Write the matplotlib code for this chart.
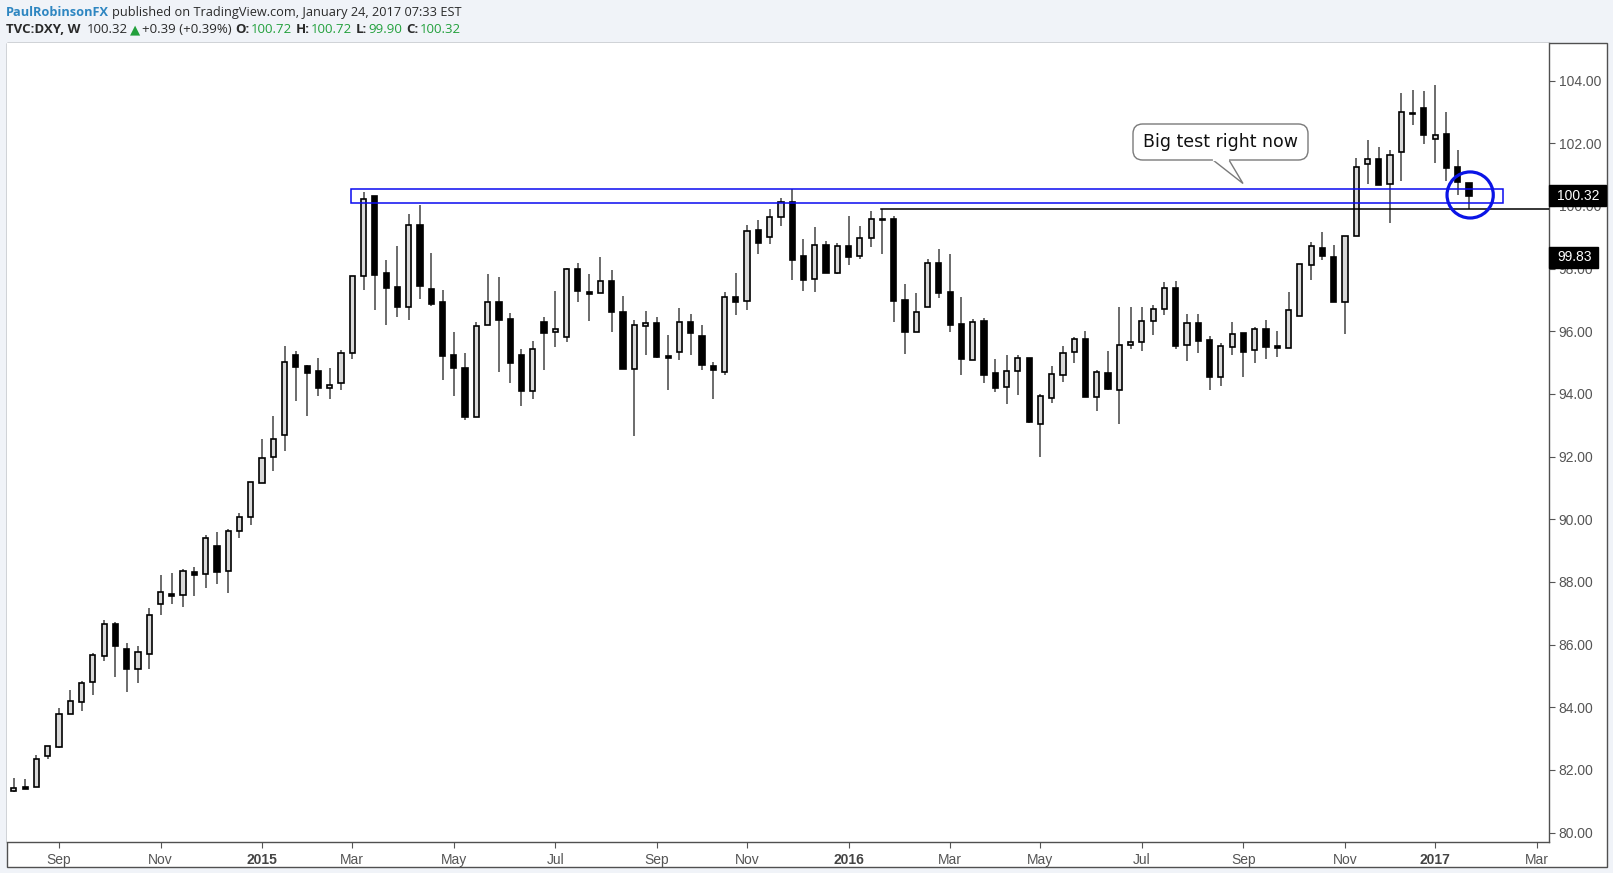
import numpy as np
import pandas as pd
import matplotlib
matplotlib.use("Agg")
import matplotlib.pyplot as plt
from matplotlib.patches import Rectangle, Ellipse, FancyBboxPatch, Polygon
from matplotlib.transforms import IdentityTransform
from matplotlib.lines import Line2D

plt.rcParams['font.family'] = ['Liberation Sans', 'DejaVu Sans']

# ---------------- data (weekly DXY candles, Aug 4 2014 .. Jan 23 2017) ----------------
opens = [81.32, 81.44, 81.44, 82.46, 82.74, 83.80, 84.18, 84.82, 85.63, 86.65,
         85.85, 85.21, 85.69, 87.29, 87.60, 87.58, 88.31, 88.24, 89.14, 88.34,
         89.62, 90.06, 91.15, 91.98, 92.68, 95.24, 94.89, 94.72, 94.20, 94.34,
         95.30, 97.75, 100.32, 97.85, 97.41, 96.77, 99.38, 97.35, 96.93, 95.23,
         94.82, 93.25, 96.19, 96.93, 96.38, 95.24, 94.09, 96.29, 95.97, 95.81,
         97.98, 97.26, 97.23, 97.60, 96.61, 94.81, 96.16, 96.26, 95.21, 95.35,
         96.29, 95.85, 94.88, 94.71, 97.09, 96.96, 99.22, 99.00, 99.64, 100.12,
         98.41, 97.66, 98.75, 97.87, 98.71, 98.39, 98.97, 99.57, 99.57, 96.99,
         95.99, 96.77, 98.17, 97.24, 96.22, 95.08, 96.32, 94.66, 94.21, 94.72,
         95.14, 93.03, 93.86, 94.60, 95.33, 95.75, 93.89, 94.66, 94.12, 95.55,
         95.65, 96.32, 96.70, 97.37, 95.55, 96.26, 95.72, 94.53, 95.49, 95.94,
         95.40, 96.07, 95.53, 95.46, 96.50, 98.11, 98.65, 98.37, 96.92, 99.03,
         101.33, 101.50, 100.69, 101.71, 102.96, 103.12, 102.15, 102.30, 101.24, 100.72]
highs = [81.73, 81.71, 82.48, 82.75, 83.98, 84.55, 84.84, 85.73, 86.78, 86.72,
         86.04, 85.96, 87.16, 88.22, 88.29, 88.41, 88.49, 89.50, 89.59, 89.69,
         90.20, 91.18, 92.56, 93.30, 95.53, 95.37, 94.93, 95.15, 94.83, 95.41,
         97.76, 100.45, 100.32, 98.28, 98.72, 99.75, 100.03, 98.50, 97.32, 95.97,
         95.31, 96.29, 97.83, 97.73, 96.57, 95.44, 95.69, 96.46, 97.29, 98.01,
         98.17, 97.83, 98.36, 97.96, 97.13, 96.36, 96.65, 96.46, 95.88, 96.75,
         96.55, 96.20, 95.02, 97.26, 97.86, 99.39, 99.54, 99.91, 100.25, 100.53,
         98.95, 99.33, 98.88, 98.82, 99.67, 99.36, 99.84, 99.89, 99.68, 97.51,
         97.22, 98.31, 98.63, 98.47, 97.10, 96.39, 96.43, 95.12, 95.24, 95.24,
         95.14, 94.00, 94.89, 95.53, 95.83, 96.01, 94.77, 95.37, 96.76, 96.76,
         96.76, 96.84, 97.58, 97.61, 96.55, 96.55, 95.85, 95.62, 96.30, 95.94,
         96.15, 96.36, 96.01, 97.24, 98.15, 98.85, 99.17, 98.76, 99.03, 101.52,
         102.11, 101.87, 101.79, 103.60, 103.70, 103.67, 103.86, 103.01, 101.79, 100.72]
lows = [81.30, 81.40, 81.44, 82.35, 82.71, 83.80, 83.89, 84.40, 85.49, 84.98,
        84.50, 84.79, 85.23, 86.93, 87.28, 87.21, 87.56, 87.82, 87.95, 87.66,
        89.41, 89.83, 91.15, 91.55, 92.19, 93.76, 93.30, 93.95, 93.85, 94.11,
        95.13, 97.32, 96.68, 96.21, 96.44, 96.36, 97.03, 96.81, 94.45, 93.94,
        93.17, 93.25, 96.19, 94.71, 94.36, 93.63, 93.85, 94.75, 95.51, 95.67,
        96.95, 96.34, 97.21, 95.98, 94.81, 92.66, 95.25, 95.16, 94.11, 95.09,
        95.25, 94.75, 93.85, 94.62, 96.52, 96.69, 98.48, 98.80, 99.37, 97.65,
        97.27, 97.24, 97.87, 97.84, 98.10, 98.32, 98.68, 98.48, 96.31, 95.29,
        95.99, 96.77, 97.07, 95.99, 94.62, 95.08, 94.36, 94.07, 93.69, 93.98,
        93.06, 91.98, 93.72, 94.39, 95.00, 93.89, 93.47, 94.13, 93.05, 95.45,
        95.38, 95.89, 96.53, 95.45, 95.06, 95.32, 94.13, 94.26, 95.25, 94.53,
        95.00, 95.11, 95.19, 95.46, 96.50, 97.64, 98.28, 96.92, 95.92, 99.03,
        100.70, 100.68, 99.47, 100.78, 102.58, 101.97, 101.36, 100.81, 100.35, 99.90]
closes = [81.41, 81.40, 82.34, 82.75, 83.78, 84.19, 84.77, 85.66, 86.65, 85.94,
          85.21, 85.75, 86.94, 87.67, 87.54, 88.34, 88.23, 89.39, 88.33, 89.62,
          90.06, 91.18, 91.95, 92.55, 95.01, 94.87, 94.68, 94.20, 94.28, 95.30,
          97.76, 100.21, 97.81, 97.39, 96.76, 99.38, 97.46, 96.88, 95.22, 94.84,
          93.25, 96.16, 96.93, 96.37, 95.00, 94.08, 95.43, 95.96, 96.06, 97.98,
          97.27, 97.20, 97.60, 96.60, 94.81, 96.19, 96.26, 95.19, 95.16, 96.29,
          95.93, 94.91, 94.76, 97.09, 96.95, 99.19, 98.83, 99.64, 100.12, 98.26,
          97.65, 98.75, 97.87, 98.71, 98.38, 98.97, 99.57, 99.54, 96.98, 95.99,
          96.61, 98.17, 97.23, 96.21, 95.10, 96.29, 94.62, 94.20, 94.72, 95.14,
          93.09, 93.93, 94.63, 95.30, 95.75, 93.89, 94.69, 94.17, 95.55, 95.67,
          96.32, 96.70, 97.37, 95.54, 96.26, 95.70, 94.53, 95.53, 95.91, 95.35,
          96.07, 95.51, 95.46, 96.67, 98.15, 98.71, 98.39, 96.92, 99.03, 101.23,
          101.51, 100.68, 101.62, 102.99, 102.94, 102.25, 102.25, 101.22, 100.75, 100.32]

first_week = '2014-08-04'
zone_low, zone_high = 100.09, 100.54     # blue resistance zone
support_line = 99.89                      # black horizontal line (99.83 label)
last_price = 100.32
line_label = '99.83'
y_ticks = [80, 82, 84, 86, 88, 90, 92, 94, 96, 98, 100, 102, 104]

# ---------------- figure ----------------
W, H = 1613, 873
fig = plt.figure(figsize=(W / 100, H / 100), dpi=100)
fig.patch.set_facecolor('#f0f3f8')

def fx(x):
    return x / W

def fy(y):
    return 1 - y / H

panel = Rectangle((fx(7), fy(867)), (1607 - 7) / W, (867 - 43) / H,
                  transform=fig.transFigure, facecolor='white',
                  edgecolor='#505050', linewidth=1.0, zorder=0)
fig.add_artist(panel)

ax = fig.add_axes([fx(7), fy(842), (1549 - 7) / W, (842 - 43) / H])
ax.set_facecolor('white')

n = len(opens)
dates = pd.date_range(pd.Timestamp(first_week) - pd.Timedelta(days=7), periods=n + 8, freq='W-MON')
xs = np.arange(1, n + 1)
o = np.array(opens); h = np.array(highs); l = np.array(lows); c = np.array(closes)
up = c >= o

ax.vlines(xs, l, h, color='#6b6b6b', linewidth=1.4, zorder=2)
ax.bar(xs[up], c[up] - o[up], bottom=o[up], width=0.46, color='#d9d9d9',
       edgecolor='black', linewidth=1.2, zorder=3)
ax.bar(xs[~up], c[~up] - o[~up], bottom=o[~up], width=0.46, color='black',
       edgecolor='black', linewidth=1.2, zorder=3)

# resistance zone and support line
ax.add_patch(Rectangle((30.9, zone_low), 133.0 - 30.9, zone_high - zone_low,
                       fill=False, edgecolor='#0a0af0', linewidth=1.1, zorder=4))
ax.plot([77.9, 140], [support_line, support_line], color='black', linewidth=1.1, zorder=4)

# circle around last candles
ax.add_patch(Ellipse((130.1, 100.35), 4.1, 1.47, fill=False, edgecolor='#0a14e6',
                     linewidth=2.3, zorder=5, clip_on=False))

ax.set_xlim(0.39, 137.09)
ax.set_ylim(79.70, 105.20)

# axes styling
for s in ['left', 'top']:
    ax.spines[s].set_visible(False)
for s in ['right', 'bottom']:
    ax.spines[s].set_color('#505050')
    ax.spines[s].set_linewidth(1.0)

ax.yaxis.tick_right()
ax.set_yticks(y_ticks)
ax.set_yticklabels([f'{v:.2f}' for v in y_ticks])
ax.tick_params(axis='y', direction='out', length=4, color='#555555',
               labelcolor='#555555', labelsize=10, pad=3)

# month ticks at first bar of odd months
tick_pos, tick_lab = [], []
for i in range(1, len(dates)):
    d, p = dates[i], dates[i - 1]
    if d.month != p.month and d.month % 2 == 1:
        tick_pos.append(i)
        tick_lab.append(str(d.year) if d.month == 1 else d.strftime('%b'))
ax.set_xticks(tick_pos)
ax.set_xticklabels(tick_lab)
ax.tick_params(axis='x', direction='out', length=4, color='#555555',
               labelcolor='#555555', labelsize=10, pad=4)
for t in ax.get_xticklabels():
    if t.get_text().isdigit():
        t.set_fontweight('bold')
        t.set_color('#444444')

# price labels on the axis
fig.canvas.draw()
renderer = fig.canvas.get_renderer()
x_axis_px = ax.transAxes.transform((1, 0))[0]

def price_label(val, text, width):
    yd = ax.transData.transform((0, val))[1]
    fig.add_artist(Rectangle((x_axis_px, yd - 10.5), width, 21, transform=IdentityTransform(),
                             facecolor='black', edgecolor='black', zorder=10))
    fig.add_artist(plt.Text(x_axis_px + 8, yd, text, transform=IdentityTransform(),
                            color='white', fontsize=10, va='center', ha='left', zorder=11))

price_label(last_price, f'{last_price:.2f}', 57)
price_label(98.36, line_label, 49)

# callout bubble (pixel coordinates, y down)
def P(x, y):
    return (fx(x), fy(y))

bx0, by0, bx1, by1 = 1133, 124, 1308, 160
bubble = FancyBboxPatch(P(bx0, by1), (bx1 - bx0) / W, (by1 - by0) / H,
                        boxstyle='round,pad=0,rounding_size=0.006',
                        transform=fig.transFigure, facecolor='white',
                        edgecolor='#7a7a7a', linewidth=1.0, zorder=6,
                        mutation_aspect=W / H)
fig.add_artist(bubble)
tail = Polygon([P(1213, 160), P(1243, 183.5), P(1229, 160)], closed=False,
               transform=fig.transFigure, facecolor='white', edgecolor='#7a7a7a',
               linewidth=1.0, zorder=7)
fig.add_artist(tail)
fig.add_artist(Line2D([fx(1214), fx(1228)], [fy(160), fy(160)], transform=fig.transFigure,
                      color='white', linewidth=1.6, zorder=8))
fig.text(fx(1220.5), fy(142), 'Big test right now', fontsize=12.5, family='DejaVu Sans',
         color='#111111', ha='center', va='center', zorder=9)

# header lines
def seq(pieces, x, y, size):
    for text, color, weight, fam, gap in pieces:
        t = fig.text(fx(x), fy(y), text, color=color, fontweight=weight, fontsize=size,
                     family=fam, ha='left', va='center')
        bb = t.get_window_extent(renderer)
        x = bb.x1 + gap

green = '#22a03c'
dark = '#2a2a2a'
OS = ['Open Sans', 'DejaVu Sans']
seq([('PaulRobinsonFX', '#2e86c1', 'bold', OS, 3),
     ('published on TradingView.com, January 24, 2017 07:33 EST', dark, 'normal', OS, 0)],
    6, 12.5, 9.2)
seq([('TVC:DXY, W', dark, 'bold', OS, 6),
     ('100.32', dark, 'normal', OS, 2),
     ('\u25B2', green, 'normal', ['DejaVu Sans'], 2),
     ('+0.39 (+0.39%)', dark, 'normal', OS, 4),
     ('O:', dark, 'bold', OS, 1),
     ('100.72', green, 'normal', OS, 4),
     ('H:', dark, 'bold', OS, 1),
     ('100.72', green, 'normal', OS, 4),
     ('L:', dark, 'bold', OS, 1),
     ('99.90', green, 'normal', OS, 4),
     ('C:', dark, 'bold', OS, 1),
     ('100.32', green, 'normal', OS, 0)], 6, 29.5, 9.5)

fig.savefig('out.png', dpi=100, facecolor=fig.get_facecolor())
